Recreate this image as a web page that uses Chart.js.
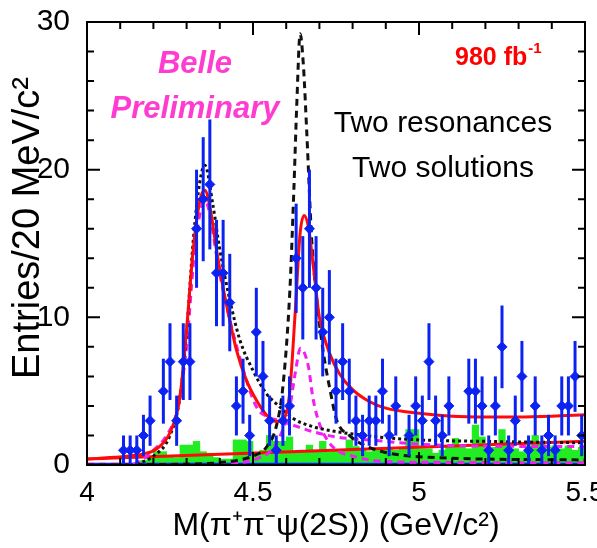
<!DOCTYPE html>
<html>
<head>
<meta charset="utf-8">
<script src="https://cdn.jsdelivr.net/npm/chart.js@4.4.1/dist/chart.umd.min.js"></script>
<style>
  body { margin: 0; background: #fff; }
  canvas { display: block; }
</style>
</head>
<body>
<canvas id="mass" width="597" height="548"></canvas>
<script>
// pi+ pi- psi(2S) invariant mass, 20 MeV bins (empty bins left out)
var binMass = [4.11, 4.13, 4.15, 4.17, 4.19, 4.23, 4.25, 4.27, 4.29, 4.31, 4.33, 4.35, 4.37, 4.39,
               4.41, 4.43, 4.45, 4.47, 4.49, 4.51, 4.53, 4.55, 4.57, 4.59, 4.61, 4.63, 4.65, 4.67,
               4.69, 4.71, 4.73, 4.75, 4.77, 4.79, 4.81, 4.83, 4.85, 4.87, 4.89, 4.91, 4.93, 4.97,
               4.99, 5.01, 5.03, 5.05, 5.07, 5.09, 5.15, 5.17, 5.19, 5.21, 5.23, 5.25, 5.27, 5.29,
               5.31, 5.33, 5.35, 5.37, 5.39, 5.41, 5.43, 5.45, 5.47, 5.49],
    entries = [1, 1, 1, 2, 3, 5, 7, 3, 7, 7, 16, 18, 19, 13,
               13, 11, 4, 5, 2, 9, 6, 3, 1, 3, 4, 14, 12, 16,
               12, 9, 10, 5, 7, 5, 3, 2, 3, 3, 5, 2, 4, 2,
               4, 3, 7, 3, 2, 4, 5, 5, 4, 1, 4, 8, 1, 3,
               6, 1, 4, 1, 2, 1, 4, 4, 6, 2],
    entryErr = [1.0, 1.0, 1.0, 1.4, 1.7, 2.2, 2.6, 1.7, 2.6, 2.6, 4.0, 4.2, 4.4, 3.6,
                3.6, 3.3, 2.0, 2.2, 1.4, 3.0, 2.4, 1.7, 1.0, 1.7, 2.0, 3.7, 3.5, 4.0,
                3.5, 3.0, 3.2, 2.2, 2.6, 2.2, 1.7, 1.4, 1.7, 1.7, 2.2, 1.4, 2.0, 1.4,
                2.0, 1.7, 2.6, 1.7, 1.4, 2.0, 2.2, 2.2, 2.0, 1.0, 2.0, 2.8, 1.0, 1.7,
                2.4, 1.0, 2.0, 1.0, 1.4, 1.0, 2.0, 2.0, 2.4, 1.4],
    halfBin = 0.01;

// psi(2S) sideband histogram
var sbMass = [4.17, 4.19, 4.21, 4.23, 4.25, 4.27, 4.29, 4.31, 4.33, 4.35, 4.37, 4.39, 4.41, 4.43,
              4.45, 4.47, 4.49, 4.51, 4.53, 4.55, 4.57, 4.59, 4.61, 4.63, 4.65, 4.67, 4.69, 4.71,
              4.73, 4.75, 4.77, 4.79, 4.81, 4.83, 4.85, 4.87, 4.89, 4.91, 4.93, 4.95, 4.97, 4.99,
              5.01, 5.03, 5.05, 5.07, 5.09, 5.11, 5.13, 5.15, 5.17, 5.19, 5.21, 5.23, 5.25, 5.27,
              5.29, 5.31, 5.33, 5.35, 5.37, 5.39, 5.41, 5.43, 5.45, 5.47, 5.49],
    sideband = [0.3, 0.5, 0.9, 0.9, 0.6, 0.5, 1.35, 1.35, 1.6, 0.9, 0.8, 0.5, 0.4, 0.4,
                1.7, 1.7, 1.6, 0.8, 1.0, 2.0, 1.6, 1.6, 1.9, 0.9, 0.9, 1.35, 0.9, 1.6,
                0.9, 1.0, 1.0, 1.7, 1.25, 1.0, 0.9, 1.0, 1.1, 1.1, 1.0, 1.2, 2.4, 2.4,
                1.1, 1.1, 0.8, 1.0, 1.2, 1.8, 1.3, 1.1, 2.7, 1.9, 1.1, 1.2, 2.4, 1.5,
                1.1, 0.9, 1.3, 2.0, 1.5, 1.2, 1.3, 1.1, 1.3, 1.0, 1.2];

// fit curves
var fitMass = [4.00, 4.07, 4.12, 4.17, 4.21, 4.25, 4.28, 4.30, 4.32, 4.34, 4.355, 4.37, 4.39,
               4.41, 4.43, 4.45, 4.48, 4.51, 4.54, 4.57, 4.59, 4.61, 4.627, 4.642, 4.654, 4.667,
               4.682, 4.70, 4.73, 4.76, 4.80, 4.85, 4.90, 5.00, 5.10, 5.20, 5.30, 5.40, 5.50],
    fitTotal = [0.4, 0.5, 0.6, 0.75, 1.1, 2.2, 4.6, 9.2, 14.6, 17.9, 18.6, 17.5, 14.6,
                12.0, 9.8, 7.8, 5.75, 4.4, 3.4, 2.95, 3.05, 4.8, 10.3, 15.7, 16.9, 16.1,
                13.4, 10.0, 7.6, 6.2, 5.1, 4.3, 3.85, 3.5, 3.3, 3.25, 3.25, 3.3, 3.4];

var bkgMass = [4.00, 5.50],
    bkg = [0.4, 1.6];

var dotMass = [4.15, 4.20, 4.25, 4.28, 4.30, 4.32, 4.34, 4.355, 4.38, 4.40, 4.43, 4.46,
               4.50, 4.54, 4.58, 4.62, 4.68, 4.75, 4.80, 4.90, 5.00, 5.20, 5.50],
    dotY = [0.05, 0.6, 2.0, 4.6, 9.0, 15.2, 19.2, 20.3, 17.5, 14.6, 11.2, 8.5,
            6.4, 4.85, 3.95, 3.16, 2.6, 2.26, 2.1, 1.85, 1.7, 1.6, 1.5];

var dashMass = [4.00, 4.30, 4.42, 4.46, 4.50, 4.54, 4.57, 4.59, 4.611, 4.623, 4.632, 4.642,
                4.652, 4.662, 4.677, 4.692, 4.712, 4.732, 4.752, 4.79, 4.85, 5.00, 5.50],
    dashY = [0.02, 0.05, 0.2, 0.35, 0.6, 1.2, 2.6, 5.3, 11.8, 18.6, 24.5, 29.2,
             27.0, 22.5, 15.2, 11.2, 7.6, 5.1, 3.05, 2.0, 1.2, 0.56, 0.34];

var pinkAMass = [4.14, 4.17, 4.20, 4.24, 4.27, 4.30, 4.32, 4.34, 4.355, 4.37, 4.39,
                 4.41, 4.46, 4.51, 4.55, 4.58, 4.62, 4.68, 4.75, 4.85, 5.05, 5.50],
    pinkA = [0.05, 0.4, 1.0, 2.0, 3.6, 8.0, 13.5, 17.0, 17.9, 17.0, 14.2,
             11.8, 7.3, 3.95, 3.2, 3.0, 2.7, 2.26, 1.9, 1.7, 1.35, 1.24];

var pinkBMass = [4.00, 4.40, 4.46, 4.52, 4.56, 4.59, 4.611, 4.627, 4.643, 4.667, 4.68,
                 4.70, 4.73, 4.76, 4.80, 4.85, 4.95, 5.50],
    pinkB = [0.05, 0.05, 0.15, 0.5, 1.1, 2.4, 3.95, 6.2, 7.9, 6.65, 4.6,
             2.8, 1.5, 0.9, 0.6, 0.35, 0.2, 0.15];

var baseMass = [4.00, 5.50],
    baseY = [0.05, 0.05];

var xTicks = [4, 4.5, 5, 5.5],
    yTicks = [0, 10, 20, 30];

var FONT = "'Liberation Sans', Arial, Helvetica, sans-serif";

function pairs(xs, ys) {
    return xs.map(function (x, i) { return { x: x, y: ys[i] }; });
}

function curve(xs, ys, color, dash, order) {
    return {
        type: 'line',
        data: pairs(xs, ys),
        borderColor: color,
        borderWidth: 3,
        borderDash: dash,
        pointRadius: 0,
        fill: false,
        cubicInterpolationMode: 'monotone',
        order: order
    };
}

// vertical and horizontal error bars under the data points
var errorBars = {
    id: 'errorBars',
    beforeDatasetDraw: function (chart, args) {
        var ds = chart.data.datasets[args.index];
        if (!ds.errors) return;
        var sx = chart.scales.x, sy = chart.scales.y, ctx = chart.ctx, a = chart.chartArea;
        ctx.save();
        ctx.beginPath();
        ctx.rect(a.left, a.top, a.right - a.left, a.bottom - a.top);
        ctx.clip();
        ctx.strokeStyle = ds.backgroundColor;
        ds.data.forEach(function (p, i) {
            var px = sx.getPixelForValue(p.x), py = sy.getPixelForValue(p.y);
            ctx.lineWidth = 3;
            ctx.beginPath();
            ctx.moveTo(px, sy.getPixelForValue(p.y - ds.errors[i]));
            ctx.lineTo(px, sy.getPixelForValue(p.y + ds.errors[i]));
            ctx.stroke();
            ctx.lineWidth = 2;
            ctx.beginPath();
            ctx.moveTo(sx.getPixelForValue(p.x - halfBin), py);
            ctx.lineTo(sx.getPixelForValue(p.x + halfBin), py);
            ctx.stroke();
        });
        ctx.restore();
    }
};

// ROOT style frame with inward ticks on all four sides
var frame = {
    id: 'frame',
    afterDraw: function (chart) {
        var ctx = chart.ctx, a = chart.chartArea, sx = chart.scales.x, sy = chart.scales.y, k, p, len;
        ctx.save();
        ctx.strokeStyle = '#000';
        ctx.lineWidth = 2;
        ctx.strokeRect(a.left, a.top, a.right - a.left, a.bottom - a.top);
        ctx.beginPath();
        for (k = 0; k <= 15; k++) {
            p = sx.getPixelForValue(4 + k * 0.1);
            len = k % 5 === 0 ? 13 : 7;
            ctx.moveTo(p, a.bottom); ctx.lineTo(p, a.bottom - len);
            ctx.moveTo(p, a.top); ctx.lineTo(p, a.top + len);
        }
        for (k = 0; k <= 15; k++) {
            p = sy.getPixelForValue(k * 2);
            len = k % 5 === 0 ? 13 : 7;
            ctx.moveTo(a.left, p); ctx.lineTo(a.left + len, p);
            ctx.moveTo(a.right, p); ctx.lineTo(a.right - len, p);
        }
        ctx.stroke();

        // y axis title
        ctx.fillStyle = '#000';
        ctx.font = '38px ' + FONT;
        ctx.textAlign = 'center';
        ctx.textBaseline = 'middle';
        ctx.translate(29, 228);
        ctx.rotate(-Math.PI / 2);
        ctx.fillText('Entries/20 MeV/c\u00b2', 0, 0);
        ctx.restore();
    }
};

var labels = {
    id: 'labels',
    afterDraw: function (chart) {
        var ctx = chart.ctx;
        ctx.save();
        ctx.textBaseline = 'alphabetic';
        ctx.textAlign = 'center';
        ctx.fillStyle = '#ff3cd2';
        ctx.font = 'italic bold 31px ' + FONT;
        ctx.fillText('Belle', 195, 73);
        ctx.fillText('Preliminary', 195, 118);

        ctx.fillStyle = '#ff0000';
        ctx.font = 'bold 25px ' + FONT;
        ctx.textAlign = 'left';
        ctx.fillText('980 fb', 455, 65);
        var w = ctx.measureText('980 fb').width;
        ctx.font = 'bold 15px ' + FONT;
        ctx.fillText('-1', 455 + w + 1, 53);

        ctx.fillStyle = '#000';
        ctx.textAlign = 'center';
        ctx.font = '30px ' + FONT;
        ctx.fillText('Two resonances', 443, 132);
        ctx.fillText('Two solutions', 443, 177);
        ctx.restore();
    }
};

function drawMass() {
    var datasets = [
        {
            type: 'scatter',
            data: pairs(binMass, entries),
            errors: entryErr,
            backgroundColor: '#0b22f2',
            borderColor: '#0b22f2',
            pointRadius: 5,
            pointStyle: 'rectRot',
            order: 1
        },
        curve(fitMass, fitTotal, '#ff0a0a', [], 4),
        curve(bkgMass, bkg, '#ff0a0a', [], 6),
        curve(dotMass, dotY, '#111', [3, 3], 5),
        curve(dashMass, dashY, '#111', [7, 5], 5),
        curve(pinkAMass, pinkA, '#f21ef2', [7, 5], 5),
        curve(pinkBMass, pinkB, '#f21ef2', [7, 5], 5),
        curve(baseMass, baseY, '#0b22f2', [], 7),
        {
            type: 'bar',
            data: pairs(sbMass, sideband),
            backgroundColor: '#22ec22',
            borderWidth: 0,
            barPercentage: 1.0,
            categoryPercentage: 1.0,
            order: 10
        }
    ];

    new Chart(document.getElementById('mass'), {
        type: 'scatter',
        data: { datasets: datasets },
        options: {
            responsive: false,
            animation: false,
            layout: { padding: { top: 22, right: 12, left: 0, bottom: 0 } },
            plugins: { legend: { display: false }, tooltip: { enabled: false } },
            scales: {
                x: {
                    type: 'linear',
                    min: 4, max: 5.5,
                    offset: false,
                    grid: { display: false },
                    border: { display: false },
                    afterBuildTicks: function (s) {
                        s.ticks = xTicks.map(function (v) { return { value: v }; });
                    },
                    ticks: {
                        padding: 3,
                        color: '#000',
                        maxRotation: 0,
                        autoSkip: false,
                        font: { family: FONT, size: 28 },
                        callback: function (v) { return String(+v.toFixed(2)); }
                    },
                    title: {
                        display: true,
                        text: 'M(\u03c0\u207a\u03c0\u207b\u03c8(2S)) (GeV/c\u00b2)',
                        color: '#000',
                        font: { family: FONT, size: 32 },
                        padding: { top: 0, bottom: 3 }
                    },
                    afterFit: function (s) {
                        s.height = 83;
                        s.paddingLeft = 0;
                        s.paddingRight = 0;
                    }
                },
                y: {
                    min: 0, max: 30,
                    grid: { display: false },
                    border: { display: false },
                    afterBuildTicks: function (s) {
                        s.ticks = yTicks.map(function (v) { return { value: v }; });
                    },
                    ticks: {
                        padding: 9,
                        color: '#000',
                        font: { family: FONT, size: 30 }
                    },
                    afterFit: function (s) {
                        s.width = 87;
                        s.paddingTop = 0;
                        s.paddingBottom = 0;
                    }
                }
            }
        },
        plugins: [errorBars, frame, labels]
    });
}

window.onload = function () {
    drawMass();
};
</script>
</body>
</html>
